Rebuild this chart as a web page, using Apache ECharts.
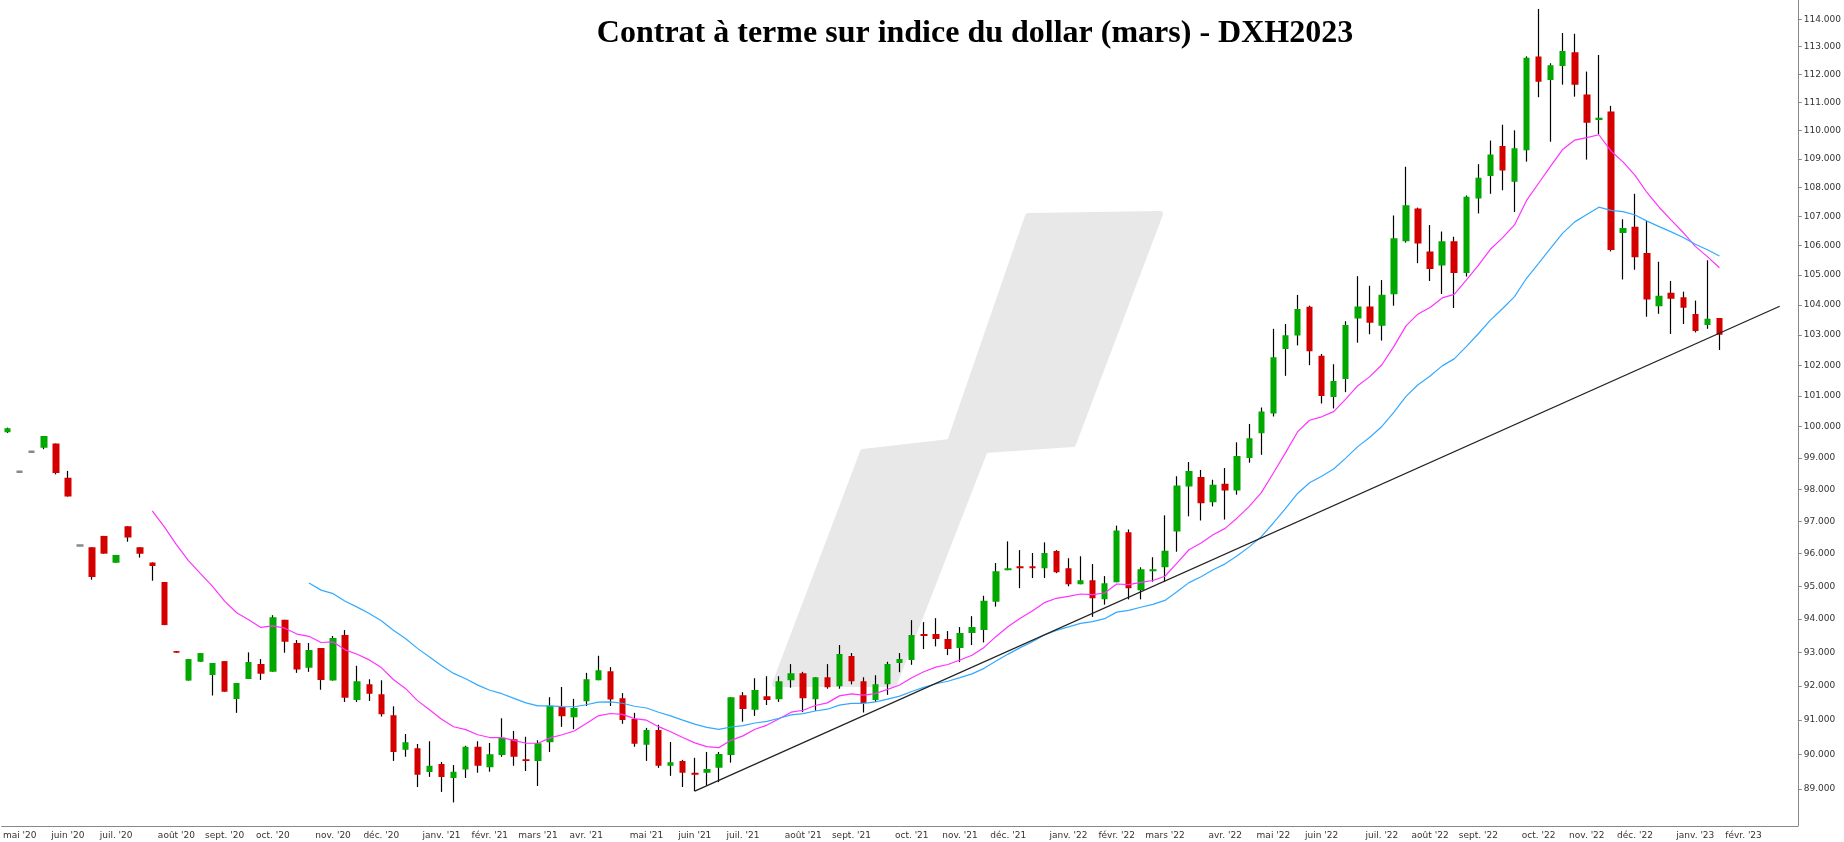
<!DOCTYPE html>
<html><head><meta charset="utf-8">
<script src="https://cdn.jsdelivr.net/npm/echarts@6/dist/echarts.min.js"></script>
<style>html,body{margin:0;padding:0;background:#fff}#c{width:1844px;height:842px}</style>
</head><body><div id="c"></div>
<script>
// Weekly candles [open, close, low, high]
const opens  = [99.82,98.56,99.2,99.33,99.46,98.37,96.25,96.2,96.55,95.72,96.85,96.2,95.73,95.13,93.04,92.16,92.72,92.33,92.74,91.62,92.21,92.65,92.42,93.98,93.28,92.54,93.13,92.16,93.52,91.59,92.05,91.76,91.14,90.13,90.18,89.49,89.72,89.32,89.56,90.22,89.63,89.98,90.44,89.86,89.81,90.35,91.38,91.08,91.55,92.17,92.44,91.64,91.03,90.28,90.71,89.67,89.81,89.47,89.47,89.61,89.98,91.73,91.3,91.7,91.61,92.17,92.38,91.61,92.26,91.99,92.89,92.14,91.59,92.05,92.68,92.77,93.55,93.55,93.4,93.13,93.58,93.67,94.53,95.49,95.61,95.61,95.55,96.08,95.55,95.06,95.18,94.6,95.12,96.66,94.88,95.46,95.58,96.69,98.1,98.4,97.6,98.18,97.97,99.0,99.79,100.43,102.53,102.98,103.93,102.31,100.96,101.55,103.54,103.94,103.3,104.35,106.15,107.27,105.8,105.32,106.15,105.07,107.62,108.4,109.45,108.2,109.3,112.64,111.8,112.3,112.8,111.28,110.37,110.67,106.43,106.64,105.75,103.95,104.4,104.25,103.69,103.33,103.56];
const closes = [99.95,98.56,99.2,99.70,98.52,97.78,96.25,95.28,96.0,95.96,96.5,96.0,95.62,93.82,92.99,92.8,92.98,92.68,91.83,92.09,92.71,92.36,94.06,93.32,92.49,93.07,92.18,93.43,91.65,92.14,91.77,91.17,90.07,90.35,89.41,89.67,89.35,89.5,90.22,89.67,90.0,90.48,89.93,89.81,90.32,91.42,91.11,91.35,92.2,92.47,91.6,91.0,90.31,90.71,89.67,89.77,89.47,89.41,89.58,90.01,91.67,91.32,91.88,91.59,92.14,92.38,91.64,92.26,91.96,92.95,92.14,91.5,92.05,92.65,92.8,93.52,93.49,93.4,93.1,93.58,93.76,94.56,95.46,95.55,95.55,95.55,96.02,95.43,95.06,95.18,94.63,95.09,96.72,94.94,95.52,95.52,96.09,98.13,98.59,97.57,98.15,97.97,99.06,99.63,100.49,102.26,102.99,103.86,102.46,100.99,101.48,103.33,103.94,103.4,104.34,106.25,107.38,106.07,105.2,106.15,105.07,107.68,108.34,109.15,108.59,109.37,112.6,111.73,112.33,112.84,111.63,110.27,110.45,105.85,106.6,105.6,104.18,104.3,104.2,103.9,103.13,103.53,103.0];
const lows   = [99.80,98.56,99.2,99.28,98.48,97.78,96.25,95.2,96.0,95.72,96.37,95.88,95.17,93.82,92.99,92.16,92.72,91.72,91.83,91.21,92.21,92.18,92.42,92.99,92.39,92.42,91.89,92.16,91.53,91.53,91.56,91.1,89.81,89.93,89.06,89.35,88.92,88.62,89.32,89.47,89.5,89.93,89.67,89.52,89.09,90.07,90.8,90.73,91.41,92.17,91.41,90.89,90.22,89.81,89.61,89.38,89.06,88.94,89.1,89.2,89.76,90.95,91.12,91.44,91.53,91.95,91.23,91.27,91.92,91.92,92.05,91.22,91.53,91.74,92.41,92.63,93.1,93.18,92.92,92.71,93.22,93.3,94.38,95.49,94.94,95.25,95.25,95.4,95.0,95.06,94.07,94.44,95.12,94.6,94.6,95.14,95.14,96.06,97.16,97.03,97.47,97.06,97.84,98.85,99.1,100.33,101.65,102.65,102.0,100.75,100.59,101.12,102.74,103.02,102.81,103.97,106.1,105.4,104.8,104.36,103.89,104.95,107.1,107.78,107.9,107.15,108.9,111.18,109.6,111.63,111.2,108.97,109.86,105.8,104.85,105.18,103.6,103.7,103.03,103.36,103.08,103.2,102.5];
const highs  = [99.97,98.56,99.2,99.70,99.46,98.59,96.25,96.2,96.55,95.96,96.85,96.2,95.73,95.13,93.04,92.8,92.98,92.68,92.74,92.09,93.0,92.8,94.12,93.98,93.37,93.28,93.13,93.49,93.67,92.6,92.2,92.17,91.4,90.59,90.3,90.38,89.78,89.69,90.25,90.38,90.33,91.05,90.68,90.51,90.41,91.67,91.97,91.62,92.39,92.9,92.56,91.79,91.21,90.77,90.86,90.36,89.84,89.9,90.07,90.07,91.67,91.82,92.23,92.29,92.29,92.65,92.42,92.26,92.65,93.22,92.98,92.26,92.32,92.72,92.98,93.97,93.91,94.03,93.64,93.76,94.09,94.71,95.71,96.38,96.11,96.02,96.35,96.11,95.86,95.92,95.68,95.31,96.87,96.75,95.58,95.89,97.19,98.42,98.87,98.62,98.31,98.68,99.5,100.09,100.62,103.2,103.36,104.33,103.97,102.37,102.03,103.45,104.96,104.64,104.83,107.03,108.72,107.3,106.7,106.48,106.3,107.72,108.81,109.64,110.2,110.0,112.65,114.38,112.4,113.5,113.47,112.1,112.7,110.87,106.9,107.78,106.84,105.45,104.8,104.44,104.14,105.5,103.56];
const monthNames = ['janv.','févr.','mars','avr.','mai','juin','juil.','août','sept.','oct.','nov.','déc.'];
const yTicks = [89,90,91,92,93,94,95,96,97,98,99,100,101,102,103,104,105,106,107,108,109,110,111,112,113,114];
const trendStart = {index:57, value:88.94};
const trendEnd = {index:147, value:103.95};
const firstWeek = '2020-04-24';
const totalWeeks = 149;
const lastLabelIndex = 145;

const cats = [];
const d0 = new Date(firstWeek + 'T12:00:00Z');
for (let i = 0; i < totalWeeks; i++) {
  const d = new Date(d0.getTime() + i * 7 * 86400000);
  cats.push(d.toISOString().slice(0, 10));
}
function monthStartIn(i) {
  if (i > lastLabelIndex) return null;
  const d = new Date(cats[i] + 'T12:00:00Z');
  for (let k = 0; k < 7; k++) {
    const e = new Date(d.getTime() + k * 86400000);
    if (e.getUTCDate() === 1) return e;
  }
  return null;
}
const GREEN = '#00a800', RED = '#d40000', GRAY = '#888';
const isFlat = (i) => opens[i] === closes[i] && lows[i] === highs[i];
const bodies = opens.map((o, i) => {
  const item = {value: [o, closes[i], lows[i], highs[i]]};
  if (isFlat(i)) item.itemStyle = {color: GRAY, color0: GRAY, borderColor: GRAY, borderColor0: GRAY, borderColorDoji: GRAY, borderWidth: 2.5};
  return item;
});
const wicks = opens.map((o, i) => isFlat(i) ? '-' : [o, closes[i], lows[i], highs[i]]);
function ema(arr, n) {
  const out = arr.map(() => '-');
  let s = 0;
  for (let i = 0; i < n; i++) s += arr[i];
  let e = s / n; out[n - 1] = +e.toFixed(3);
  const k = 2 / (n + 1);
  for (let i = n; i < arr.length; i++) { e = e + k * (arr[i] - e); out[i] = +e.toFixed(3); }
  return out;
}
const ema13 = ema(closes, 13), ema26 = ema(closes, 26);

const chart = echarts.init(document.getElementById('c'));
chart.setOption({
  animation: false,
  backgroundColor: '#fff',
  title: {text: 'Contrat à terme sur indice du dollar (mars) - DXH2023', left: 970, top: 13, textAlign: 'center',
    textStyle: {fontFamily: 'Liberation Serif', fontWeight: 'bold', fontSize: 32, color: '#000'}},
  graphic: [{type: 'polygon', z: -10, silent: true,
    shape: {points: [[1028,216],[1160,214],[1073,444],[985,450],[894,684],[775,684],[863,452],[950,442]]},
    style: {fill: '#e8e8e8', stroke: '#e8e8e8', lineWidth: 6, lineJoin: 'round'}}],
  grid: {left: -4, right: 37, top: 0, bottom: 16},
  xAxis: {type: 'category', data: cats, boundaryGap: true,
    axisLine: {lineStyle: {color: '#888'}},
    axisTick: {alignWithLabel: true, interval: (i) => !!monthStartIn(i), lineStyle: {color: '#888'}, length: 4},
    axisLabel: {interval: (i) => !!monthStartIn(i), hideOverlap: false, fontSize: 9, color: '#333', fontFamily: 'DejaVu Sans', margin: 5,
      formatter: (v, i) => { const m = monthStartIn(i); return m ? monthNames[m.getUTCMonth()] + " '" + String(m.getUTCFullYear()).slice(2) : ''; }},
    splitLine: {show: false}},
  yAxis: {type: 'log', logBase: 10, position: 'right', min: 87.95, max: 114.71, scale: true,
    axisLine: {show: true, lineStyle: {color: '#888'}},
    axisTick: {show: true, customValues: yTicks, length: 4, lineStyle: {color: '#888'}},
    axisLabel: {customValues: yTicks, fontSize: 9, color: '#333', fontFamily: 'DejaVu Sans', margin: 6,
      formatter: (v) => Number(v).toFixed(3)},
    splitLine: {show: false}},
  series: [
    {type: 'candlestick', data: wicks, barWidth: 1, z: 2,
      itemStyle: {color: '#000', color0: '#000', borderColor: '#000', borderColor0: '#000', borderColorDoji: '#000', borderWidth: 1.2},
      markLine: {silent: true, symbol: 'none', animation: false, label: {show: false},
        lineStyle: {color: '#222', width: 1.3, type: 'solid'},
        data: [[{coord: [cats[trendStart.index], trendStart.value]}, {coord: [cats[trendEnd.index], trendEnd.value]}]]}},
    {type: 'candlestick', data: bodies, barWidth: 7, z: 3,
      itemStyle: {color: GREEN, color0: RED, borderColor: GREEN, borderColor0: RED, borderWidth: 0}},
    {type: 'line', data: ema13, showSymbol: false, lineStyle: {color: '#ff33ff', width: 1.2}, z: 4},
    {type: 'line', data: ema26, showSymbol: false, lineStyle: {color: '#33aaff', width: 1.2}, z: 4}
  ]
});
</script></body></html>
